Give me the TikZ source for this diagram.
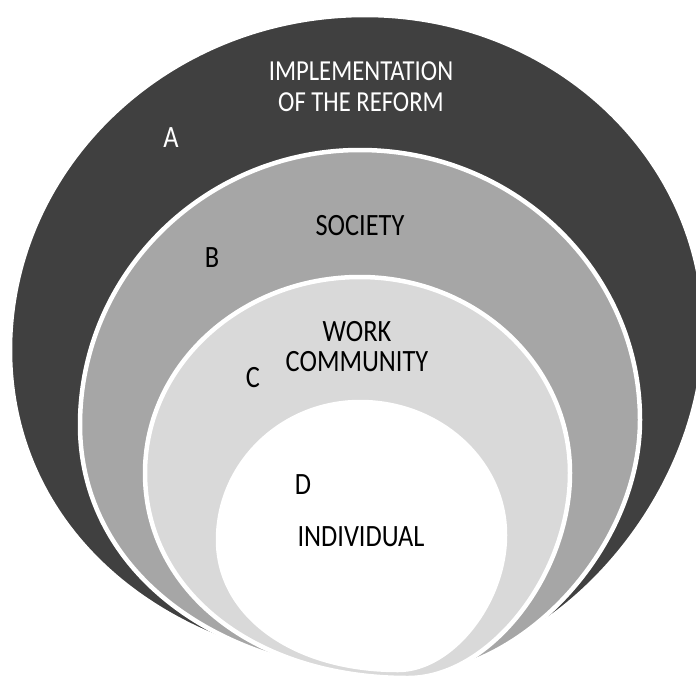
\documentclass[tikz,border=0pt]{standalone}
\usepackage{fontspec}
\setmainfont{Carlito}[FakeStretch=0.85]
\usetikzlibrary{calc}

\definecolor{ringA}{HTML}{404040}
\definecolor{ringB}{HTML}{A6A6A6}
\definecolor{ringC}{HTML}{D9D9D9}

% closed curve through left, top, right and bottom points
\newcommand{\ringpath}[4]{(#1)
  .. controls ($(#1)!0.552!(#1|-#2)$) and ($(#2)!0.552!(#1|-#2)$) .. (#2)
  .. controls ($(#2)!0.552!(#3|-#2)$) and ($(#3)!0.552!(#3|-#2)$) .. (#3)
  .. controls ($(#3)!0.5!(#3|-#4)$) and ($(#4)!0.5!(#3|-#4)$) .. (#4)
  .. controls ($(#4)!0.58!(#1|-#4)$) and ($(#1)!0.58!(#1|-#4)$) .. (#1) -- cycle}

\begin{document}
\begin{tikzpicture}[x=1pt, y=-1pt,
    ring/.style={draw=white, line width=4.5pt},
    ringtext/.style={font=\fontsize{31}{30}\selectfont, align=center}]
    \path [use as bounding box, clip] (0,0) rectangle (696,675) ;

    \coordinate (aL) at (10,350) ;  \coordinate (aT) at (365,15) ;
    \coordinate (aR) at (704,330) ; \coordinate (aB) at (400,671) ;
    \coordinate (bL) at (80,425) ;  \coordinate (bT) at (360,150) ;
    \coordinate (bR) at (640,420) ; \coordinate (bB) at (405,675) ;
    \coordinate (cL) at (145,473) ; \coordinate (cT) at (360,277) ;
    \coordinate (cR) at (570,473) ; \coordinate (cB) at (408,678) ;
    \coordinate (dL) at (218,540) ; \coordinate (dT) at (360,402) ;
    \coordinate (dR) at (505,535) ; \coordinate (dB) at (398,670) ;

    \draw [ring, fill=ringA] \ringpath{aL}{aT}{aR}{aB} ;
    \draw [ring, fill=ringB] \ringpath{bL}{bT}{bR}{bB} ;
    \draw [ring, fill=ringC] \ringpath{cL}{cT}{cR}{cB} ;
    \draw [ring, fill=white] \ringpath{dL}{dT}{dR}{dB} ;

    \node [ringtext, text=white, font=\fontsize{29}{31}\selectfont] (reform) at (361,87) {IMPLEMENTATION\\OF THE REFORM} ;
    \node [ringtext, text=white] (letterA) at (171,138) {A} ;
    \node [ringtext] (society) at (360,226) {SOCIETY} ;
    \node [ringtext] (letterB) at (212,258) {B} ;
    \node [ringtext] (work) at (357,347) {WORK\\COMMUNITY} ;
    \node [ringtext] (letterC) at (253,378) {C} ;
    \node [ringtext] (letterD) at (303,485) {D} ;
    \node [ringtext] (individual) at (361,537) {INDIVIDUAL} ;
\end{tikzpicture}
\end{document}
